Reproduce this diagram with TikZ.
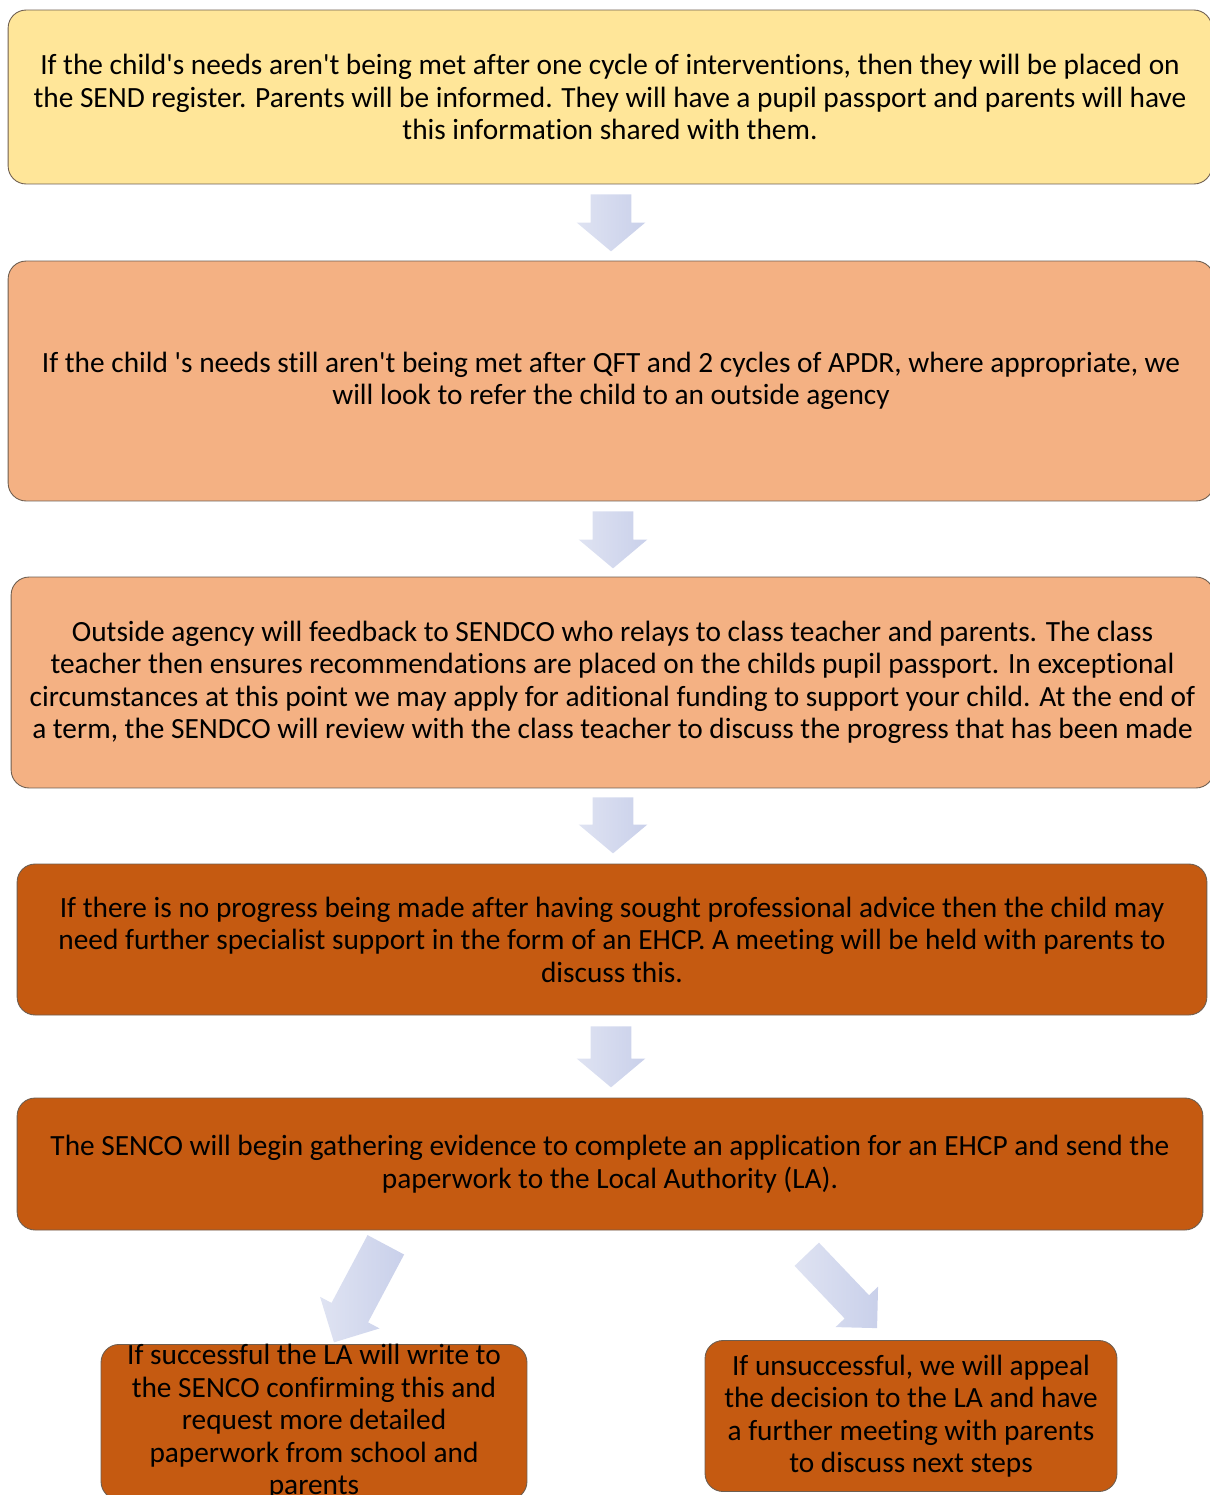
\documentclass[tikz,border=0pt]{standalone}
\usepackage{fontspec}
\setmainfont{Carlito}[Ligatures={TeX,NoCommon}]
\usetikzlibrary{shapes.arrows}
\definecolor{gold}{HTML}{FFE699}
\definecolor{peach}{HTML}{F4B183}
\definecolor{rust}{HTML}{C55A11}
\definecolor{edge}{HTML}{6E5E50}
\definecolor{artop}{HTML}{DFE3F2}
\definecolor{arbot}{HTML}{C9D0EA}
\newcommand{\apo}{\textquotesingle}

\begin{document}
\begin{tikzpicture}[x=0.02cm,y=-0.02cm,
  stage/.style={draw=edge,line width=0.5pt,rounded corners=0.36cm,inner sep=0pt,
    align=center,font=\fontsize{16.7}{18.5}\selectfont},
  flow/.style={single arrow,anchor=tail,inner xsep=0pt,inner ysep=0.4cm,draw=none,rotate=-90,
    single arrow head extend=0.28cm,single arrow tip angle=100,left color=artop,right color=arbot},
  slant/.style={single arrow,anchor=tail,inner xsep=0pt,draw=none,single arrow tip angle=90,
    left color=artop,right color=arbot}]
  \useasboundingbox (0,0) rectangle (1210,1495);

  % stages
  \node[stage,fill=gold,minimum width=24.08cm,minimum height=3.48cm] at (610,97) (sendreg)
    {If the child\apo s needs aren\apo t being met after one cycle of interventions, then they will be placed on\\
     the SEND register. Parents will be informed. They will have a pupil passport and parents will have\\
     this information shared with them.};
  \node[stage,fill=peach,minimum width=24.12cm,minimum height=4.8cm] at (611,381) (refer)
    {If the child \apo s needs still aren\apo t being met after QFT and 2 cycles of APDR, where appropriate, we\\
     will look to refer the child to an outside agency};
  \node[stage,fill=peach,minimum width=24.06cm,minimum height=4.22cm] at (612.5,682.5) (feedback)
    {Outside agency will feedback to SENDCO who relays to class teacher and parents. The class\\
     teacher then ensures recommendations are placed on the childs pupil passport. In exceptional\\
     circumstances at this point we may apply for aditional funding to support your child. At the end of\\
     a term, the SENDCO will review with the class teacher to discuss the progress that has been made};
  \node[stage,fill=rust,minimum width=23.8cm,minimum height=3.02cm] at (612,939.5) (noprog)
    {If there is no progress being made after having sought professional advice then the child may\\
     need further specialist support in the form of an EHCP. A meeting will be held with parents to\\
     discuss this.};
  \node[stage,fill=rust,minimum width=23.72cm,minimum height=2.64cm] at (610,1164) (ehcp)
    {The SENCO will begin gathering evidence to complete an application for an EHCP and send the\\
     paperwork to the Local Authority (LA).};
  \node[stage,fill=rust,minimum width=8.52cm,minimum height=3.04cm] at (314,1422) (success)
    {If successful the LA will write to\\ the SENCO confirming this and\\ request more detailed\\
     paperwork from school and\\ parents};
  \node[stage,fill=rust,minimum width=8.24cm,minimum height=3.02cm] at (911,1416) (appeal)
    {If unsuccessful, we will appeal\\ the decision to the LA and have\\ a further meeting with parents\\
     to discuss next steps};

  % arrows
  \node[flow,minimum height=1.14cm] at (611,194) (down1) {};
  \node[flow,minimum height=1.14cm] at (613,511) (down2) {};
  \node[flow,minimum height=1.12cm] at (613,797) (down3) {};
  \node[flow,minimum height=1.22cm] at (611,1026) (down4) {};
  \node[slant,rotate=242,inner ysep=0.407cm,minimum height=2.21cm,single arrow head extend=0.26cm] at (386,1244.5) (toyes) {};
  \node[slant,rotate=-46.4,inner ysep=0.33cm,minimum height=2.04cm,single arrow head extend=0.25cm] at (806.5,1254) (tono) {};
\end{tikzpicture}
\end{document}
